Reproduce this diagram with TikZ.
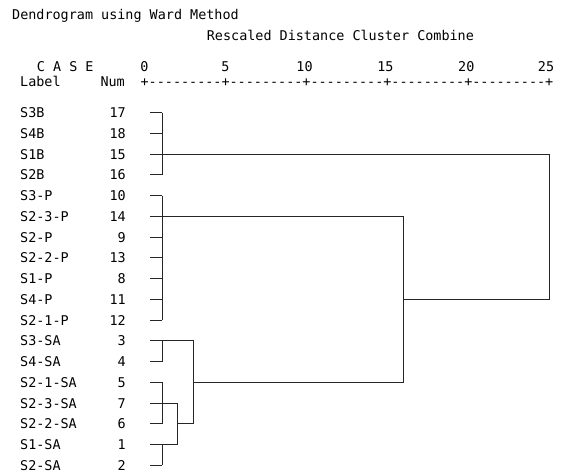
\documentclass[tikz,border=0pt]{standalone}
\usepackage{fontspec}
\setmainfont{DejaVu Sans Mono}[Ligatures=TeXOff]
\usepackage{tikz}

\begin{document}
\begin{tikzpicture}[
    x=1pt, y=-1pt,
    font=\fontsize{13.44}{16}\selectfont,
    txt/.style={inner sep=0pt, text height=9.8pt, text depth=0pt},
    caselabel/.style={txt, anchor=west},
    casenum/.style={txt, anchor=east},
    tick/.style={txt, anchor=center},
    tree/.style={line width=1pt, draw=black!85}
]
    \useasboundingbox (0,0) rectangle (563,474);

    % Header
    \node[caselabel] (title) at (12,15) {Dendrogram using Ward Method};
    \node[caselabel] (rescaled) at (206.7,36) {Rescaled Distance Cluster Combine};
    \node[caselabel] (case) at (36.7,66.5) {C A S E};
    \node[caselabel] (label) at (20,82) {Label};
    \node[casenum] (numhead) at (125,82) {Num};
    \node[caselabel] (axis) at (140.45,81.7) {+---------+---------+---------+---------+---------+};
    \node[tick] (t0) at (144.5,66.7) {0};
    \node[tick] (t5) at (225.4,66.7) {5};
    \node[tick] (t10) at (304.5,66.7) {10};
    \node[tick] (t15) at (385.4,66.7) {15};
    \node[tick] (t20) at (466.3,66.7) {20};
    \node[tick] (t25) at (546,66.7) {25};

    % Cases
    \foreach \lab/\num [count=\i] in {S3B/17, S4B/18, S1B/15, S2B/16, S3-P/10, S2-3-P/14, S2-P/9, S2-2-P/13, S1-P/8, S4-P/11, S2-1-P/12, S3-SA/3, S4-SA/4, S2-1-SA/5, S2-3-SA/7, S2-2-SA/6, S1-SA/1, S2-SA/2} {
        \pgfmathsetmacro\yy{112.7+(\i-1)*20.75}
        \node[caselabel] (lab\i) at (20,\yy) {\lab};
        \node[casenum] (num\i) at (126,\yy) {\num};
        \coordinate (leaf\i) at (150,\yy);
        \draw[tree] (leaf\i) -- ([xshift=12pt]leaf\i);
    }

    % First joins
    \foreach \a/\b in {1/4, 5/11, 12/13, 14/16, 17/18}
        \draw[tree] ([xshift=12pt]leaf\a) -- ([xshift=12pt]leaf\b);

    % Tree
    \draw[tree] (leaf15) -| ([xshift=27pt]leaf17) -- (leaf17);
    \draw[tree] (leaf12) -| ([xshift=43pt]leaf16) -- ([xshift=27pt]leaf16);
    \draw[tree] (leaf6) -| ([xshift=253.5pt]leaf14) -- ([xshift=43pt]leaf14);
    \draw[tree] (leaf3) -| ([xshift=399pt]leaf10) -- ([xshift=253.5pt]leaf10);
\end{tikzpicture}
\end{document}
